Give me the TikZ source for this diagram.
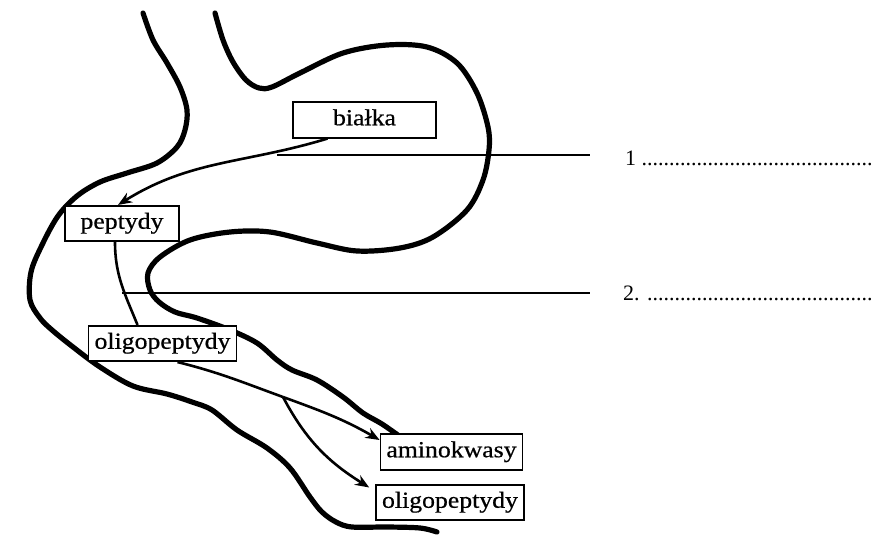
\documentclass[tikz,border=0pt]{standalone}
\usepackage{fontspec}
\setmainfont{Liberation Serif}
\newfontfamily\boxfont[FakeStretch=1.12, RawFeature={embolden=0.6}]{Liberation Serif}
\usetikzlibrary{arrows.meta,positioning}

\begin{document}
\begin{tikzpicture}[x=1pt,y=-1pt,
    wall/.style={line width=5.2pt, line cap=round, line join=round},
    flow/.style={line width=2.6pt},
    tip/.style={-{Stealth[length=14pt,width=11pt]}},
    substance/.style={draw, line width=1.6pt, fill=white, inner xsep=6pt, inner ysep=7pt,
      text height=16pt, text depth=5.5pt, font=\boxfont\fontsize{23}{27}\selectfont},
    guide/.style={line width=1.6pt},
    answer/.style={anchor=base west, inner sep=0pt, font=\fontsize{22}{26}\selectfont}]
  \useasboundingbox[fill=white] (0,0) rectangle (875,541);

  % oesophagus, stomach and duodenum walls
  \draw[wall] plot[smooth, tension=0.55] coordinates {
    (143,13) (153,40) (167,63) (180,87) (187,110) (185,130) (177,147) (157,163)
    (127,173) (100,182) (77,196) (58,216) (42,245) (31,272) (30,300) (40,318)
    (52,330) (73,347) (100,367) (133,386) (167,394) (192,402) (212,410) (237,430)
    (267,448) (290,468) (310,497) (322,512) (336,522) (352,527) (387,527)
    (420,528) (437,532)};
  \draw[wall] plot[smooth, tension=0.55] coordinates {
    (215,13) (223,40) (233,62) (246,80) (259,88) (272,87) (300,73) (343,53)
    (387,45) (427,47) (457,63) (477,93) (488,127) (489,150) (483,180) (467,210)
    (433,237) (400,248) (357,251) (317,243) (270,232) (230,232) (190,240)
    (160,257) (148,273) (150,290) (159,302) (175,312) (197,318) (230,330)
    (257,343) (277,360) (292,370) (317,380) (343,397) (363,413) (382,424)
    (402,438)};

  \node[substance, minimum width=143pt] (bialka) at (364.5,120) {białka};
  \node[substance, minimum width=114pt] (peptydy) at (122,223.5) {peptydy};
  \node[substance] (oligo) at (162.5,343.5) {oligopeptydy};
  \node[substance] (amino) at (451.5,452) {aminokwasy};
  \node[substance] (oligob) at (450,502.5) {oligopeptydy};

  \draw[flow,tip] ([xshift=-37pt]bialka.south) to[out=197,in=32] ([xshift=-4pt]peptydy.north);
  \draw[flow] ([xshift=-7pt]peptydy.south) to[out=-90,in=112] ([xshift=-25pt]oligo.north);
  \coordinate (split) at (283,397);
  \draw[flow] ([xshift=15pt]oligo.south) to[out=-14,in=160] (split);
  \draw[flow,tip] (split) to[out=-20,in=150] ([yshift=12pt]amino.west);
  \draw[flow,tip] (split) to[out=-62,in=148] ([xshift=-6pt,yshift=15pt]oligob.west);

  % answer lines
  \node[answer] (num1) at (625,165) {1 ..........................................};
  \node[answer] (num2) at (623,300) {2. .........................................};
  \coordinate (c1) at (277,155);
  \coordinate (c2) at (122,293);
  \draw[guide, shorten >=35pt] (c1) -- (c1 -| num1.west);
  \draw[guide, shorten >=33pt] (c2) -- (c2 -| num2.west);
\end{tikzpicture}
\end{document}
